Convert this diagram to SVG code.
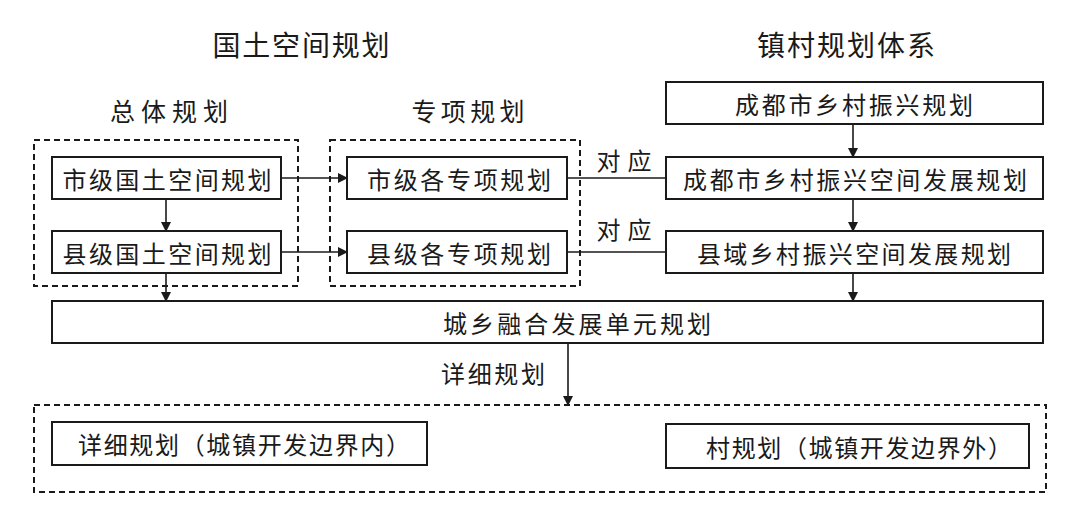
<svg xmlns="http://www.w3.org/2000/svg" width="1080" height="526" viewBox="0 0 1080 526">
<defs>
<marker id="ah" markerWidth="10" markerHeight="10" refX="9" refY="5" orient="auto" markerUnits="userSpaceOnUse">
<path d="M0,0 L10,5 L0,10 Z" fill="#1a1a1a"/>
</marker>
<style>
.n{fill:#fff;stroke:#1a1a1a;stroke-width:2}
.d{fill:none;stroke:#1a1a1a;stroke-width:2;stroke-dasharray:6 4}
.t{font-family:"Noto Sans CJK SC","Noto Sans CJK JP",sans-serif;font-size:24px;fill:#1a1a1a;text-anchor:middle;dominant-baseline:central}
.h{font-family:"Noto Sans CJK SC","Noto Sans CJK JP",sans-serif;font-size:28px;fill:#1a1a1a;text-anchor:middle;dominant-baseline:central}
.s{font-family:"Noto Sans CJK SC","Noto Sans CJK JP",sans-serif;font-size:25px;fill:#1a1a1a;text-anchor:middle;dominant-baseline:central}
.c{fill:none;stroke:#1a1a1a;stroke-width:1.6}
</style>
</defs>
<rect width="1080" height="526" fill="#fff"/>
<g id="titles">
<text class="h" x="301" y="44" textLength="177" lengthAdjust="spacing">国土空间规划</text>
<text class="h" x="846" y="44" textLength="178" lengthAdjust="spacing">镇村规划体系</text>
<text class="s" x="169" y="110" textLength="118" lengthAdjust="spacing">总体规划</text>
<text class="s" x="468" y="110" textLength="113" lengthAdjust="spacing">专项规划</text>
</g>
<g id="groups">
<rect class="d" x="34" y="140" width="264" height="146"/>
<rect class="d" x="330" y="140" width="250" height="146"/>
<rect class="d" x="34" y="405" width="1012" height="87"/>
</g>
<g id="connectors">
<line class="c" x1="166" y1="199" x2="166" y2="231" marker-end="url(#ah)"/>
<line class="c" x1="166" y1="273" x2="166" y2="301" marker-end="url(#ah)"/>
<line class="c" x1="281" y1="178" x2="347" y2="178" marker-end="url(#ah)"/>
<line class="c" x1="281" y1="252" x2="347" y2="252" marker-end="url(#ah)"/>
<line class="c" x1="567" y1="178" x2="666" y2="178"/>
<line class="c" x1="567" y1="252" x2="666" y2="252"/>
<line class="c" x1="853" y1="124" x2="853" y2="157" marker-end="url(#ah)"/>
<line class="c" x1="853" y1="199" x2="853" y2="231" marker-end="url(#ah)"/>
<line class="c" x1="853" y1="273" x2="853" y2="301" marker-end="url(#ah)"/>
<line class="c" x1="568" y1="343" x2="568" y2="405" marker-end="url(#ah)"/>
<text class="t" x="624" y="159" textLength="55" lengthAdjust="spacing">对应</text>
<text class="t" x="624" y="228" textLength="55" lengthAdjust="spacing">对应</text>
<text class="t" x="493" y="372" textLength="104" lengthAdjust="spacing">详细规划</text>
</g>
<g id="n1"><rect class="n" x="52" y="157" width="229" height="42"/><text class="t" x="167" y="178" textLength="209" lengthAdjust="spacing">市级国土空间规划</text></g>
<g id="n2"><rect class="n" x="52" y="231" width="229" height="42"/><text class="t" x="167" y="252" textLength="209" lengthAdjust="spacing">县级国土空间规划</text></g>
<g id="n3"><rect class="n" x="347" y="157" width="220" height="42"/><text class="t" x="459" y="178" textLength="184" lengthAdjust="spacing">市级各专项规划</text></g>
<g id="n4"><rect class="n" x="347" y="231" width="220" height="42"/><text class="t" x="459" y="252" textLength="184" lengthAdjust="spacing">县级各专项规划</text></g>
<g id="n5"><rect class="n" x="666" y="82" width="377" height="42"/><text class="t" x="854" y="103" textLength="238" lengthAdjust="spacing">成都市乡村振兴规划</text></g>
<g id="n6"><rect class="n" x="666" y="157" width="377" height="42"/><text class="t" x="855" y="178" textLength="344" lengthAdjust="spacing">成都市乡村振兴空间发展规划</text></g>
<g id="n7"><rect class="n" x="666" y="231" width="377" height="42"/><text class="t" x="854" y="252" textLength="314" lengthAdjust="spacing">县域乡村振兴空间发展规划</text></g>
<g id="n8"><rect class="n" x="52" y="301" width="991" height="42"/><text class="t" x="577" y="322" textLength="268" lengthAdjust="spacing">城乡融合发展单元规划</text></g>
<g id="n9"><rect class="n" x="52" y="422" width="375" height="43"/><text class="t" x="244" y="443" textLength="332" lengthAdjust="spacing">详细规划（城镇开发边界内）</text></g>
<g id="n10"><rect class="n" x="666" y="424" width="363" height="44"/><text class="t" x="859" y="446" textLength="306" lengthAdjust="spacing">村规划（城镇开发边界外）</text></g>
</svg>
